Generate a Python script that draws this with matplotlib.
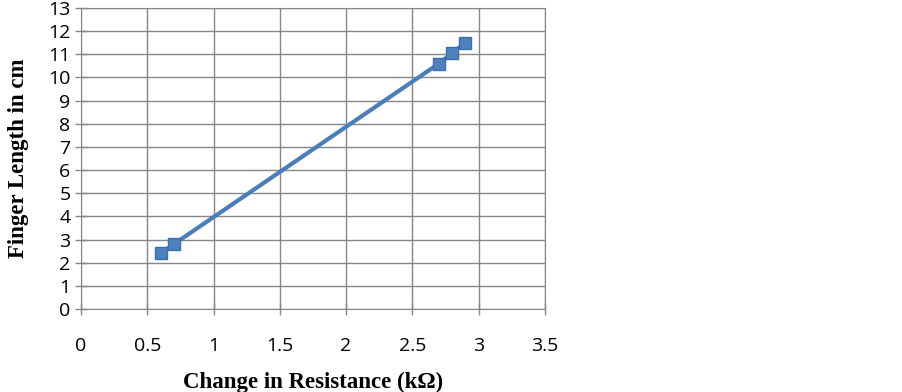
import matplotlib
matplotlib.use("Agg")
import matplotlib.pyplot as plt
import numpy as np

# data
resistance = [0.6, 0.7, 2.7, 2.8, 2.9]
finger_len = [2.4, 2.8, 10.6, 11.05, 11.5]
x_ticks = [0, 0.5, 1, 1.5, 2, 2.5, 3, 3.5]
y_ticks = list(range(0, 14))

fig = plt.figure(figsize=(9.03, 3.92), dpi=100)
ax = fig.add_axes([0.0897, 0.2117, 0.5138, 0.7679])

ax.plot(resistance, finger_len, color="#4a7ebb", linewidth=3, marker="s",
        markersize=9, markerfacecolor="#4f81bd", markeredgecolor="#3c6eae",
        zorder=3)

ax.set_xlim(0, 3.5)
ax.set_ylim(0, 13)
ax.set_xticks(x_ticks)
ax.set_xticklabels([f"{t:g}" for t in x_ticks])
ax.set_yticks(y_ticks)
ax.grid(True, color="#868686", linewidth=1)
for s in ax.spines.values():
    s.set_color("#868686")
ax.tick_params(axis="both", direction="inout", length=8, color="#868686",
               labelsize=14, width=1)
ax.tick_params(axis="x", pad=16)
for lab in ax.get_xticklabels() + ax.get_yticklabels():
    lab.set_family("Open Sans")

ax.set_xlabel("Change in Resistance (kΩ)", family="Liberation Serif",
              fontweight="bold", fontsize=16.5, labelpad=12)
ax.set_ylabel("Finger Length in cm", family="Liberation Serif",
              fontweight="bold", fontsize=16.5, labelpad=14)

fig.savefig("out.png", dpi=100)
